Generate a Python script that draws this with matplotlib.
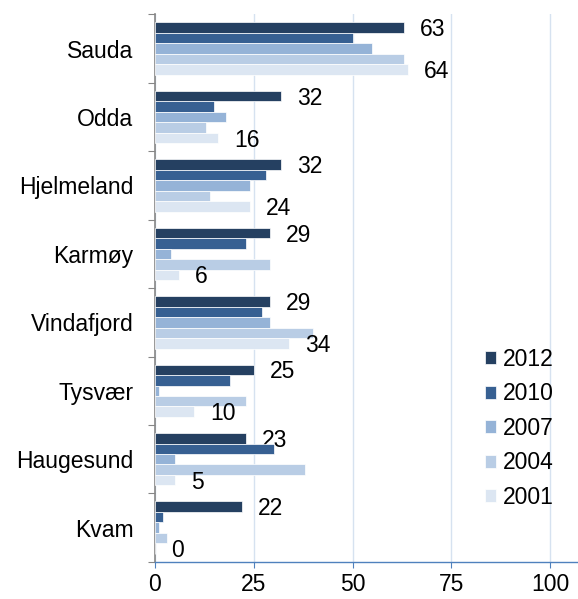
import numpy as np
import matplotlib
matplotlib.use("Agg")
import matplotlib.pyplot as plt

plt.rcParams["font.family"] = ["Liberation Sans", "DejaVu Sans"]

# --------------------------------------------------------------------------
# Data
# --------------------------------------------------------------------------
municipalities = ["Sauda", "Odda", "Hjelmeland", "Karmøy",
                  "Vindafjord", "Tysvær", "Haugesund", "Kvam"]
years = ["2012", "2010", "2007", "2004", "2001"]

v2012 = [63, 32, 32, 29, 29, 25, 23, 22]
v2010 = [50, 15, 28, 23, 27, 19, 30, 2]
v2007 = [55, 18, 24, 4, 29, 1, 5, 1]
v2004 = [63, 13, 14, 29, 40, 23, 38, 3]
v2001 = [64, 16, 24, 6, 34, 10, 5, 0]

series = [v2012, v2010, v2007, v2004, v2001]
colors = ["#254061", "#376092", "#95B3D7", "#B9CDE5", "#DCE6F2"]

x_ticks = [0, 25, 50, 75, 100]

FS = 16.5

# --------------------------------------------------------------------------
# Plot
# --------------------------------------------------------------------------
fig = plt.figure(figsize=(5.78, 5.99), dpi=100)
ax = fig.add_axes([0.268, 0.062, 0.732, 0.914])

n = len(municipalities)
y = np.arange(n)
bar_h = 0.153

for i, (vals, col, yr) in enumerate(zip(series, colors, years)):
    pos = y + (i - 2) * bar_h
    ax.barh(pos, vals, height=bar_h, color=col, edgecolor="white",
            linewidth=0.5, label=yr, zorder=3)
    # Only the 2012 and 2001 series carry value labels
    if yr in ("2012", "2001"):
        for p, v in zip(pos, vals):
            ax.annotate(f"{v}", xy=(v, p), xytext=(11.5, -1.5),
                        textcoords="offset points", ha="left", va="center",
                        fontsize=FS, color="black")

ax.set_ylim(n - 0.5, -0.5)
ax.set_xlim(0, 107)

# category boundaries get tick marks, centres get the labels
ax.set_yticks(np.arange(-0.5, n, 1))
ax.set_yticklabels([])
ax.set_yticks(y, minor=True)
ax.set_yticklabels(municipalities, minor=True, fontsize=FS)
ax.tick_params(axis="y", which="major", length=5, color="#868686",
               direction="out")
ax.tick_params(axis="y", which="minor", length=0, pad=15.5)

ax.set_xticks(x_ticks)
ax.set_xticklabels([str(t) for t in x_ticks], fontsize=FS)
ax.tick_params(axis="x", length=4.5, color="#4F81BD", direction="out", pad=3.5)

ax.grid(axis="x", color="#D6E2F0", linewidth=1, zorder=0)
ax.set_axisbelow(True)

for side in ("top", "right"):
    ax.spines[side].set_visible(False)
ax.spines["left"].set_color("#868686")
ax.spines["left"].set_linewidth(1.2)
ax.spines["bottom"].set_color("#4F81BD")
ax.spines["bottom"].set_linewidth(1)

leg = ax.legend(loc="upper left", bbox_to_anchor=(485 / 578, 1 - 348 / 599),
                bbox_transform=fig.transFigure, frameon=False, fontsize=FS,
                handlelength=0.48, handleheight=0.48, handletextpad=0.28,
                labelspacing=0.5, borderpad=0, borderaxespad=0)

plt.savefig("out.png", dpi=100)
plt.close()
